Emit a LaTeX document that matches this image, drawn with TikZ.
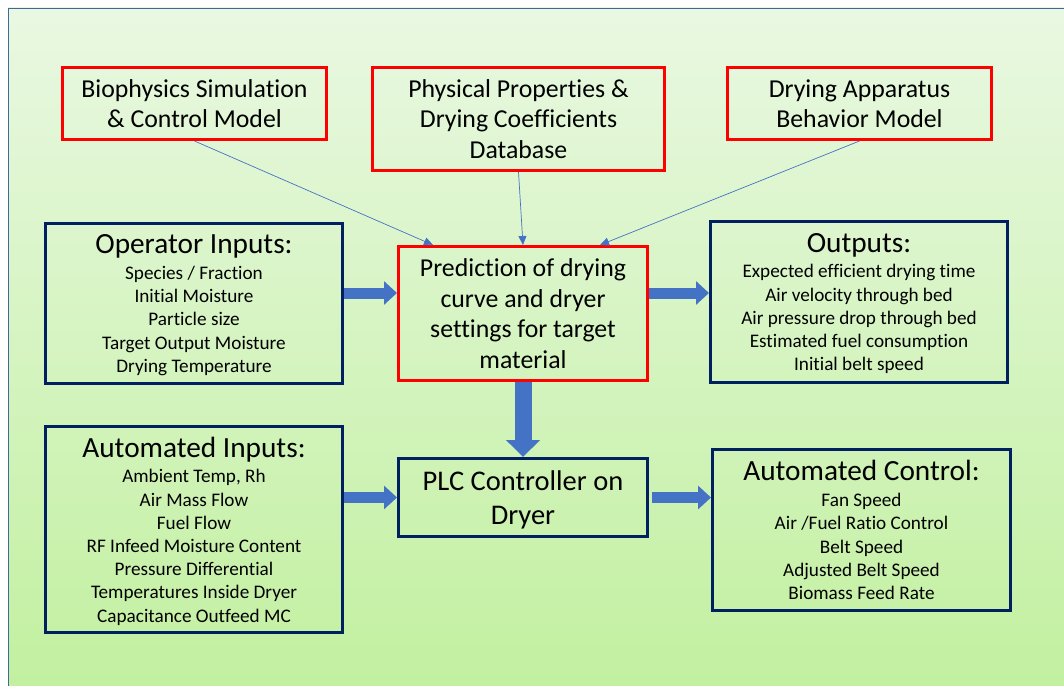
\documentclass[tikz,border=0pt]{standalone}
\usepackage{fontspec}
\setmainfont{Carlito}[Ligatures=NoCommon]
\usetikzlibrary{arrows.meta,positioning}

\definecolor{frameblue}{HTML}{41679F}
\definecolor{bgtop}{HTML}{E9F8E2}
\definecolor{bgbottom}{HTML}{C2F0A0}
\definecolor{modelred}{HTML}{FF0000}
\definecolor{boxnavy}{HTML}{002060}
\definecolor{arrowblue}{HTML}{4472C4}

\newcommand{\headline}[1]{{\fontsize{29.3}{33}\selectfont #1}\\[2.5pt]}

\begin{document}
\begin{tikzpicture}[x=1pt, y=-1pt,
  modelbox/.style={draw=modelred, line width=3pt, align=center, inner sep=0pt,
    font=\fontsize{25.8}{30.5}\selectfont},
  databox/.style={draw=boxnavy, line width=3pt, align=center, inner sep=0pt,
    text depth=0pt, font=\fontsize{19.2}{23.2}\selectfont},
  feed/.style={draw=arrowblue, line width=0.7pt,
    -{Triangle[length=9pt,width=8pt]}},
  flow/.style={draw=arrowblue, line width=11pt,
    -{Triangle[length=13pt,width=23pt]}},
  bigflow/.style={draw=arrowblue, line width=17pt,
    -{Triangle[length=17pt,width=33pt]}}]
  \useasboundingbox (0,0) rectangle (1064,685);

  % Background panel
  \shade[top color=bgtop, bottom color=bgbottom] (8,8) rectangle (1064,685);
  \draw[frameblue, line width=0.8pt] (8.5,690) -- (8.5,8.5) -- (1070,8.5);

  % Model sources (top row)
  \node[modelbox, minimum width=264, minimum height=72] (bio) at (194.5,103.5)
    {Biophysics Simulation\\\& Control Model};
  \node[modelbox, minimum width=292, minimum height=103] (phys) at (518.5,119)
    {Physical Properties \&\\Drying Coefficients\\Database};
  \node[modelbox, minimum width=264, minimum height=72] (app) at (859.5,103.5)
    {Drying Apparatus\\Behavior Model};

  % Prediction and controller
  \node[modelbox, minimum width=249, minimum height=134] (pred) at (523,313.5)
    {Prediction of drying\\curve and dryer\\settings for target\\material};
  \node[databox, minimum width=249, minimum height=78,
    font=\fontsize{28.5}{33.5}\selectfont] (plc) at (523,497.5)
    {PLC Controller on\\Dryer};

  % Side boxes
  \node[databox, minimum width=297, minimum height=160] (op) at (194,303.5)
    {\headline{Operator Inputs:}Species / Fraction\\Initial Moisture\\Particle size\\
     Target Output Moisture\\Drying Temperature};
  \node[databox, minimum width=297, minimum height=161] (out) at (859,302)
    {\headline{Outputs:}Expected efficient drying time\\Air velocity through bed\\
     Air pressure drop through bed\\Estimated fuel consumption\\Initial belt speed};
  \node[databox, minimum width=297, minimum height=206] (auto) at (194,529.5)
    {\headline{Automated Inputs:}Ambient Temp, Rh\\Air Mass Flow\\Fuel Flow\\
     RF Infeed Moisture Content\\Pressure Differential\\Temperatures Inside Dryer\\
     Capacitance Outfeed MC};
  \node[databox, minimum width=298, minimum height=161] (ctrl) at (861.5,530)
    {\headline{Automated Control:}Fan Speed\\Air /Fuel Ratio Control\\Belt Speed\\
     Adjusted Belt Speed\\Biomass Feed Rate};

  % Thin feeds into the prediction
  \coordinate (inA) at ([xshift=-90pt]pred.north);
  \coordinate (inB) at (pred.north);
  \coordinate (inC) at ([xshift=77pt]pred.north);
  \draw[feed] (bio.south) -- (inA);
  \draw[feed] (phys.south) -- (inB);
  \draw[feed] (app.south) -- (inC);

  % Block arrows
  \coordinate (opOut) at ([yshift=10.5pt]op.east);
  \coordinate (predOut) at ([yshift=20.5pt]pred.east);
  \draw[flow] (opOut) -- (opOut -| pred.west);
  \draw[flow] (predOut) -- (predOut -| out.west);
  \draw[bigflow] (pred.south) -- (plc.north);
  \draw[flow] (auto.east |- plc.west) -- (plc.west);
  \draw[flow] ([xshift=3pt]plc.east) -- (plc.east -| ctrl.west);
\end{tikzpicture}
\end{document}
